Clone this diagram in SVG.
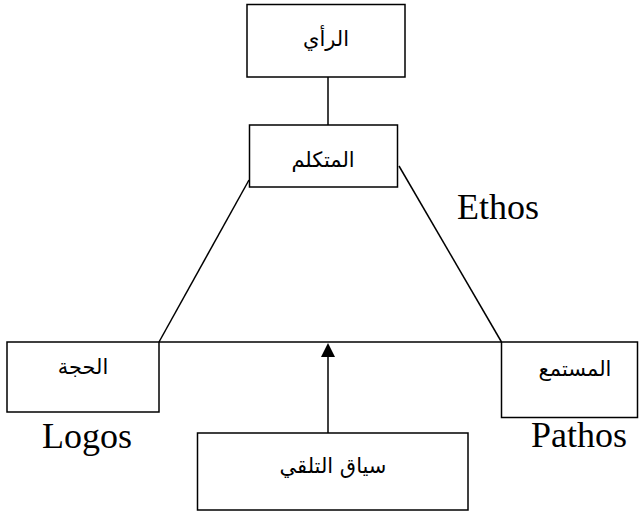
<svg xmlns="http://www.w3.org/2000/svg" width="639" height="512" viewBox="0 0 639 512">
<defs>
<style>
.box{fill:#fff;stroke:#000;stroke-width:1.5}
.ar{font-family:"DejaVu Sans","Liberation Sans","Noto Sans",sans-serif;font-size:21px;fill:#000;text-anchor:middle}
.en{font-family:"Liberation Serif","Times New Roman",serif;font-size:36px;fill:#000}
.ln{stroke:#000;stroke-width:1.5;fill:none}
</style>
</defs>
<rect width="639" height="512" fill="#fff"/>
<g id="connectors">
<line class="ln" x1="328" y1="77" x2="328" y2="125"/>
<line class="ln" x1="249" y1="180" x2="159" y2="342"/>
<line class="ln" x1="399" y1="166" x2="501.5" y2="342"/>
<line class="ln" x1="159" y1="342" x2="501.5" y2="342"/>
<line class="ln" x1="328" y1="433" x2="328" y2="356"/>
<path d="M321,357 L328,343 L335,357 Z" fill="#000"/>
</g>
<g id="node-ray">
<rect class="box" x="247" y="4.5" width="158" height="72.5"/>
<text class="ar" x="326" y="46">الرأي</text>
</g>
<g id="node-mutakallim">
<rect class="box" x="249.5" y="125" width="148" height="62"/>
<text class="ar" x="323" y="167">المتكلم</text>
</g>
<g id="node-hujja">
<rect class="box" x="7" y="342" width="152" height="70"/>
<text class="ar" x="83" y="374">الحجة</text>
</g>
<g id="node-mustami">
<rect class="box" x="501.5" y="342" width="136" height="75.5"/>
<text class="ar" x="575" y="376">المستمع</text>
</g>
<g id="node-siyaq">
<rect class="box" x="197.5" y="433" width="270.5" height="77"/>
<text class="ar" x="333" y="473">سياق التلقي</text>
</g>
<g id="labels">
<text class="en" x="457" y="219">Ethos</text>
<text class="en" x="42" y="448">Logos</text>
<text class="en" x="531" y="447">Pathos</text>
</g>
</svg>
